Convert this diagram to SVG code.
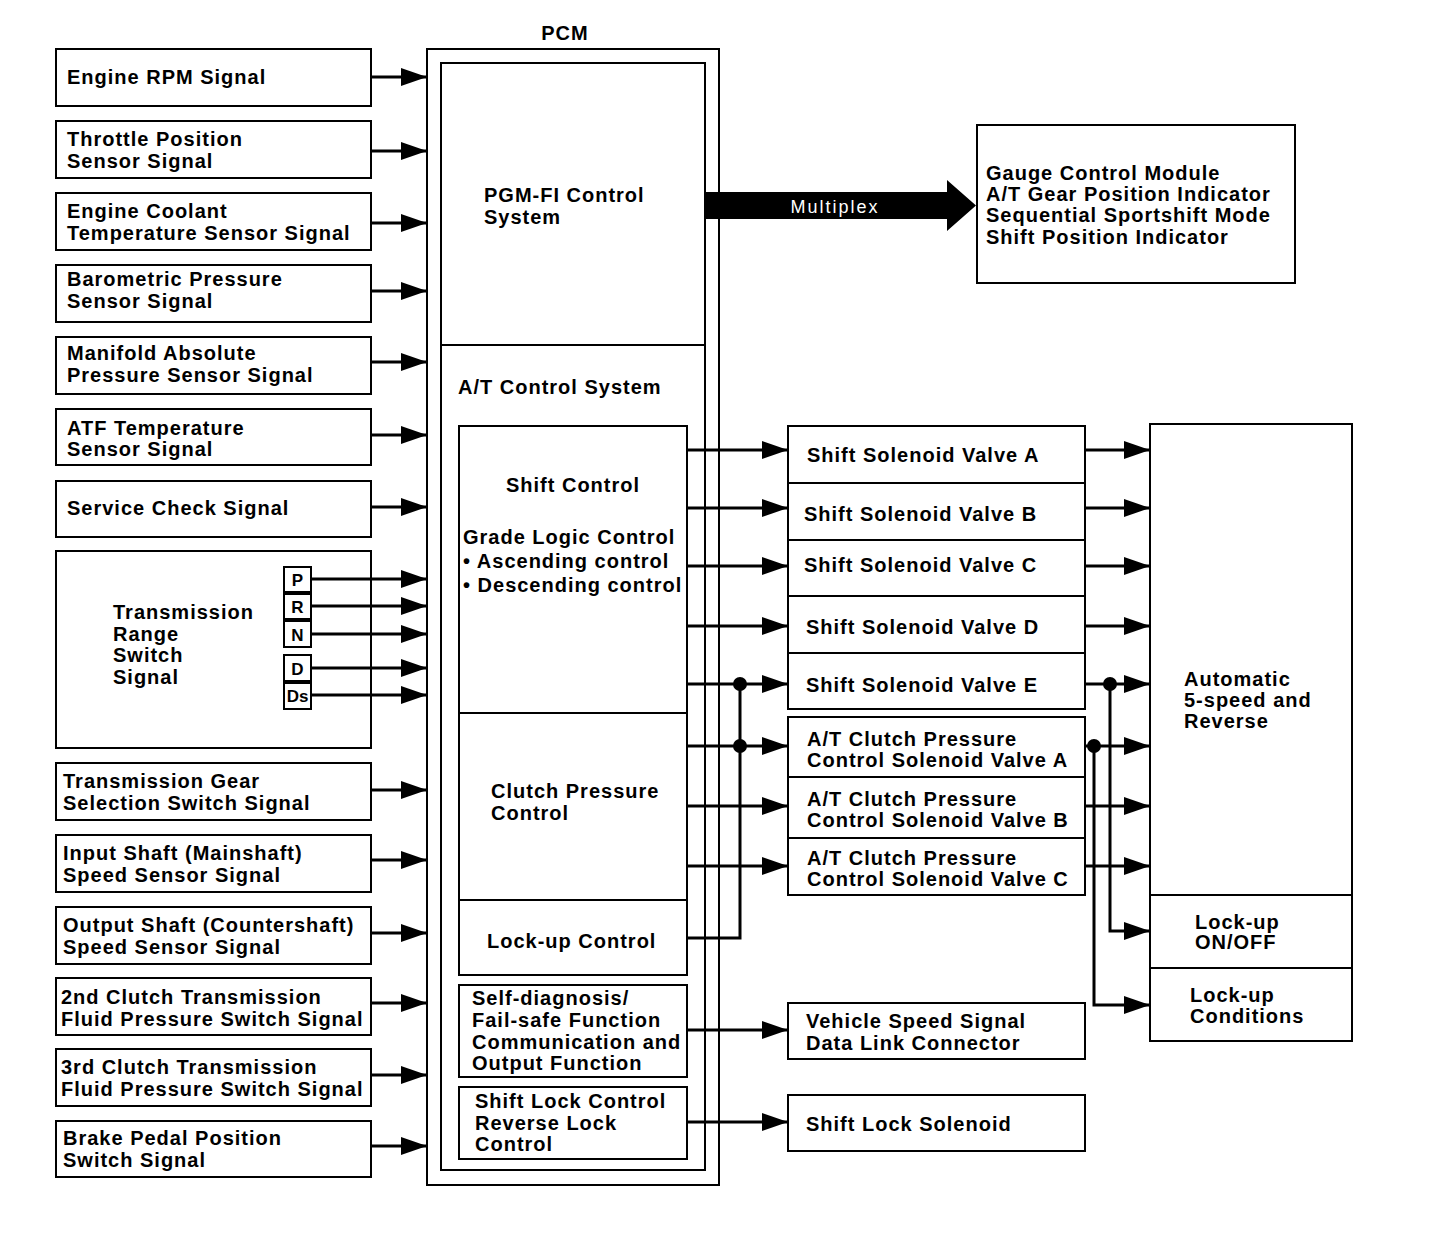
<svg xmlns="http://www.w3.org/2000/svg" width="1456" height="1258" viewBox="0 0 1456 1258">
<defs>
<style>
.b{fill:#fff;stroke:#000;stroke-width:2}
.n{fill:none;stroke:#000;stroke-width:2}
.t{font-family:"Liberation Sans",Arial,sans-serif;font-weight:bold;font-size:20px;letter-spacing:1px;fill:#000}
.s{font-family:"Liberation Sans",Arial,sans-serif;font-weight:bold;font-size:17px;fill:#000}
.c{fill:none;stroke:#000;stroke-width:3}
</style>
<marker id="ah" markerUnits="userSpaceOnUse" markerWidth="28" markerHeight="18" refX="26" refY="9" orient="auto">
<path d="M0,0 L26,9 L0,18 Z" fill="#000"/>
</marker>
</defs>
<rect width="1456" height="1258" fill="#fff"/>

<g id="inputs">
<g id="n-rpm"><rect class="b" x="56" y="49" width="315" height="57"/><text class="t" x="67" y="84">Engine RPM Signal</text></g>
<g id="n-tps"><rect class="b" x="56" y="121" width="315" height="57"/><text class="t" x="67" y="146">Throttle Position</text><text class="t" x="67" y="168">Sensor Signal</text></g>
<g id="n-ect"><rect class="b" x="56" y="193" width="315" height="57"/><text class="t" x="67" y="218">Engine Coolant</text><text class="t" x="67" y="240">Temperature Sensor Signal</text></g>
<g id="n-baro"><rect class="b" x="56" y="265" width="315" height="57"/><text class="t" x="67" y="286">Barometric Pressure</text><text class="t" x="67" y="308">Sensor Signal</text></g>
<g id="n-map"><rect class="b" x="56" y="337" width="315" height="57"/><text class="t" x="67" y="360">Manifold Absolute</text><text class="t" x="67" y="382">Pressure Sensor Signal</text></g>
<g id="n-atf"><rect class="b" x="56" y="409" width="315" height="56"/><text class="t" x="67" y="435">ATF Temperature</text><text class="t" x="67" y="456">Sensor Signal</text></g>
<g id="n-svc"><rect class="b" x="56" y="481" width="315" height="56"/><text class="t" x="67" y="515">Service Check Signal</text></g>
<g id="n-trs"><rect class="b" x="56" y="551" width="315" height="197"/>
<text class="t" x="113" y="619">Transmission</text><text class="t" x="113" y="641">Range</text><text class="t" x="113" y="662">Switch</text><text class="t" x="113" y="684">Signal</text>
<rect class="b" x="284" y="567" width="27" height="25"/><text class="s" x="297.5" y="586" text-anchor="middle">P</text>
<rect class="b" x="284" y="594" width="27" height="25"/><text class="s" x="297.5" y="613" text-anchor="middle">R</text>
<rect class="b" x="284" y="621" width="27" height="26"/><text class="s" x="297.5" y="641" text-anchor="middle">N</text>
<rect class="b" x="284" y="655" width="27" height="26"/><text class="s" x="297.5" y="675" text-anchor="middle">D</text>
<rect class="b" x="284" y="683" width="27" height="26"/><text class="s" x="297.5" y="702" text-anchor="middle" font-size="14">Ds</text>
</g>
<g id="n-gear"><rect class="b" x="56" y="763" width="315" height="57"/><text class="t" x="63" y="788">Transmission Gear</text><text class="t" x="63" y="810">Selection Switch Signal</text></g>
<g id="n-in"><rect class="b" x="56" y="835" width="315" height="57"/><text class="t" x="63" y="860">Input Shaft (Mainshaft)</text><text class="t" x="63" y="882">Speed Sensor Signal</text></g>
<g id="n-out"><rect class="b" x="56" y="907" width="315" height="57"/><text class="t" x="63" y="932">Output Shaft (Countershaft)</text><text class="t" x="63" y="954">Speed Sensor Signal</text></g>
<g id="n-2nd"><rect class="b" x="56" y="978" width="315" height="57"/><text class="t" x="61" y="1004">2nd Clutch Transmission</text><text class="t" x="61" y="1026">Fluid Pressure Switch Signal</text></g>
<g id="n-3rd"><rect class="b" x="56" y="1049" width="315" height="57"/><text class="t" x="61" y="1074">3rd Clutch Transmission</text><text class="t" x="61" y="1096">Fluid Pressure Switch Signal</text></g>
<g id="n-brake"><rect class="b" x="56" y="1121" width="315" height="56"/><text class="t" x="63" y="1145">Brake Pedal Position</text><text class="t" x="63" y="1167">Switch Signal</text></g>
</g>

<g id="pcm">
<text class="t" x="565" y="40" text-anchor="middle">PCM</text>
<rect class="b" x="427" y="49" width="292" height="1136"/>
<rect class="b" x="441" y="63" width="264" height="1107"/>
<line class="n" x1="441" y1="345" x2="705" y2="345"/>
<text class="t" x="484" y="202">PGM-FI Control</text><text class="t" x="484" y="224">System</text>
<text class="t" x="458" y="394">A/T Control System</text>
<g id="n-shiftctl"><rect class="b" x="459" y="426" width="228" height="549"/>
<line class="n" x1="459" y1="713" x2="687" y2="713"/><line class="n" x1="459" y1="900" x2="687" y2="900"/>
<text class="t" x="573" y="492" text-anchor="middle">Shift Control</text>
<text class="t" x="463" y="544">Grade Logic Control</text>
<text class="t" x="463" y="568">• Ascending control</text>
<text class="t" x="463" y="592">• Descending control</text>
<text class="t" x="491" y="798">Clutch Pressure</text><text class="t" x="491" y="820">Control</text>
<text class="t" x="487" y="948">Lock-up Control</text>
</g>
<g id="n-selfdiag"><rect class="b" x="459" y="985" width="228" height="92"/>
<text class="t" x="472" y="1005">Self-diagnosis/</text><text class="t" x="472" y="1027">Fail-safe Function</text><text class="t" x="472" y="1049">Communication and</text><text class="t" x="472" y="1070">Output Function</text></g>
<g id="n-shiftlock"><rect class="b" x="459" y="1087" width="228" height="72"/>
<text class="t" x="475" y="1108">Shift Lock Control</text><text class="t" x="475" y="1130">Reverse Lock</text><text class="t" x="475" y="1151">Control</text></g>
</g>

<g id="n-gauge"><rect class="b" x="977" y="125" width="318" height="158"/>
<text class="t" x="986" y="180">Gauge Control Module</text><text class="t" x="986" y="201">A/T Gear Position Indicator</text><text class="t" x="986" y="222">Sequential Sportshift Mode</text><text class="t" x="986" y="244">Shift Position Indicator</text></g>

<g id="outputs">
<g id="n-ssa"><rect class="b" x="788" y="426" width="297" height="57"/><text class="t" x="807" y="462">Shift Solenoid Valve A</text></g>
<g id="n-ssb"><rect class="b" x="788" y="483" width="297" height="57"/><text class="t" x="804" y="521">Shift Solenoid Valve B</text></g>
<g id="n-ssc"><rect class="b" x="788" y="540" width="297" height="56"/><text class="t" x="804" y="572">Shift Solenoid Valve C</text></g>
<g id="n-ssd"><rect class="b" x="788" y="596" width="297" height="57"/><text class="t" x="806" y="634">Shift Solenoid Valve D</text></g>
<g id="n-sse"><rect class="b" x="788" y="653" width="297" height="56"/><text class="t" x="806" y="692">Shift Solenoid Valve E</text></g>
<g id="n-cpa"><rect class="b" x="788" y="717" width="297" height="60"/><text class="t" x="807" y="746">A/T Clutch Pressure</text><text class="t" x="807" y="767">Control Solenoid Valve A</text></g>
<g id="n-cpb"><rect class="b" x="788" y="777" width="297" height="61"/><text class="t" x="807" y="806">A/T Clutch Pressure</text><text class="t" x="807" y="827">Control Solenoid Valve B</text></g>
<g id="n-cpc"><rect class="b" x="788" y="838" width="297" height="57"/><text class="t" x="807" y="865">A/T Clutch Pressure</text><text class="t" x="807" y="886">Control Solenoid Valve C</text></g>
<g id="n-vss"><rect class="b" x="788" y="1003" width="297" height="56"/><text class="t" x="806" y="1028">Vehicle Speed Signal</text><text class="t" x="806" y="1050">Data Link Connector</text></g>
<g id="n-sls"><rect class="b" x="788" y="1095" width="297" height="56"/><text class="t" x="806" y="1131">Shift Lock Solenoid</text></g>
</g>

<g id="n-trans"><rect class="b" x="1150" y="424" width="202" height="617"/>
<line class="n" x1="1150" y1="895" x2="1352" y2="895"/><line class="n" x1="1150" y1="968" x2="1352" y2="968"/>
<text class="t" x="1184" y="686">Automatic</text><text class="t" x="1184" y="707">5-speed and</text><text class="t" x="1184" y="728">Reverse</text>
<text class="t" x="1195" y="929">Lock-up</text><text class="t" x="1195" y="949">ON/OFF</text>
<text class="t" x="1190" y="1002">Lock-up</text><text class="t" x="1190" y="1023">Conditions</text>
</g>

<g id="connectors">
<line class="c" x1="371" y1="77" x2="427" y2="77" marker-end="url(#ah)"/>
<line class="c" x1="371" y1="151" x2="427" y2="151" marker-end="url(#ah)"/>
<line class="c" x1="371" y1="223" x2="427" y2="223" marker-end="url(#ah)"/>
<line class="c" x1="371" y1="291" x2="427" y2="291" marker-end="url(#ah)"/>
<line class="c" x1="371" y1="362" x2="427" y2="362" marker-end="url(#ah)"/>
<line class="c" x1="371" y1="435" x2="427" y2="435" marker-end="url(#ah)"/>
<line class="c" x1="371" y1="507" x2="427" y2="507" marker-end="url(#ah)"/>
<line class="c" x1="311" y1="579" x2="427" y2="579" marker-end="url(#ah)"/>
<line class="c" x1="311" y1="606" x2="427" y2="606" marker-end="url(#ah)"/>
<line class="c" x1="311" y1="634" x2="427" y2="634" marker-end="url(#ah)"/>
<line class="c" x1="311" y1="668" x2="427" y2="668" marker-end="url(#ah)"/>
<line class="c" x1="311" y1="695" x2="427" y2="695" marker-end="url(#ah)"/>
<line class="c" x1="371" y1="790" x2="427" y2="790" marker-end="url(#ah)"/>
<line class="c" x1="371" y1="860" x2="427" y2="860" marker-end="url(#ah)"/>
<line class="c" x1="371" y1="933" x2="427" y2="933" marker-end="url(#ah)"/>
<line class="c" x1="371" y1="1003" x2="427" y2="1003" marker-end="url(#ah)"/>
<line class="c" x1="371" y1="1075" x2="427" y2="1075" marker-end="url(#ah)"/>
<line class="c" x1="371" y1="1146" x2="427" y2="1146" marker-end="url(#ah)"/>

<path d="M705,192 H947 V180 L976,205.5 L947,231 V219 H705 Z" fill="#000"/>
<text x="835" y="213" text-anchor="middle" font-family="Liberation Sans,Arial,sans-serif" font-size="18" letter-spacing="2" fill="#fff">Multiplex</text>

<line class="c" x1="687" y1="450" x2="788" y2="450" marker-end="url(#ah)"/>
<line class="c" x1="687" y1="508" x2="788" y2="508" marker-end="url(#ah)"/>
<line class="c" x1="687" y1="566" x2="788" y2="566" marker-end="url(#ah)"/>
<line class="c" x1="687" y1="626" x2="788" y2="626" marker-end="url(#ah)"/>
<line class="c" x1="687" y1="684" x2="788" y2="684" marker-end="url(#ah)"/>
<line class="c" x1="687" y1="746" x2="788" y2="746" marker-end="url(#ah)"/>
<line class="c" x1="687" y1="806" x2="788" y2="806" marker-end="url(#ah)"/>
<line class="c" x1="687" y1="866" x2="788" y2="866" marker-end="url(#ah)"/>
<polyline class="c" points="687,938 740,938 740,684"/>
<circle cx="740" cy="684" r="7" fill="#000"/>
<circle cx="740" cy="746" r="7" fill="#000"/>
<line class="c" x1="687" y1="1030" x2="788" y2="1030" marker-end="url(#ah)"/>
<line class="c" x1="687" y1="1122" x2="788" y2="1122" marker-end="url(#ah)"/>

<line class="c" x1="1085" y1="450" x2="1150" y2="450" marker-end="url(#ah)"/>
<line class="c" x1="1085" y1="508" x2="1150" y2="508" marker-end="url(#ah)"/>
<line class="c" x1="1085" y1="566" x2="1150" y2="566" marker-end="url(#ah)"/>
<line class="c" x1="1085" y1="626" x2="1150" y2="626" marker-end="url(#ah)"/>
<line class="c" x1="1085" y1="684" x2="1150" y2="684" marker-end="url(#ah)"/>
<line class="c" x1="1085" y1="746" x2="1150" y2="746" marker-end="url(#ah)"/>
<line class="c" x1="1085" y1="806" x2="1150" y2="806" marker-end="url(#ah)"/>
<line class="c" x1="1085" y1="866" x2="1150" y2="866" marker-end="url(#ah)"/>
<polyline class="c" points="1110,684 1110,931 1150,931" marker-end="url(#ah)"/>
<polyline class="c" points="1094,746 1094,1005 1150,1005" marker-end="url(#ah)"/>
<circle cx="1110" cy="684" r="7" fill="#000"/>
<circle cx="1094" cy="746" r="7" fill="#000"/>
</g>
</svg>
